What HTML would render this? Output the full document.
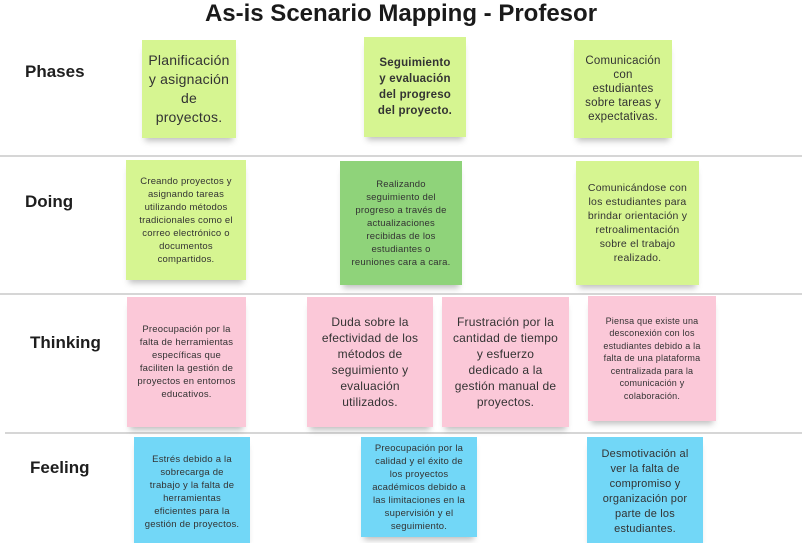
<!DOCTYPE html>
<html><head><meta charset="utf-8"><style>
body{margin:0;width:802px;height:543px;background:#fff;position:relative;overflow:hidden;font-family:"Liberation Sans","DejaVu Sans",sans-serif;color:#222}
.t{position:absolute;left:0;width:802px;top:0;text-align:center;font-weight:bold;font-size:24px;line-height:28px;color:#1a1a1a}
.l{position:absolute;font-weight:bold;font-size:17px;color:#1e1e1e}
.h{position:absolute;height:2px;background:#d6d6d6}
.n{position:absolute;display:flex;align-items:center;justify-content:center;text-align:center;box-sizing:border-box;padding:4px 12px;color:#333;box-shadow:0 6px 6px -3px rgba(0,0,0,0.25);letter-spacing:0.2px}
.y{background:#d6f591}.g{background:#8fd37a}.p{background:#fbc8d8}.b{background:#72d7f7}
</style></head><body>
<div class="t">As-is Scenario Mapping - Profesor</div>
<div class="l" style="left:25px;top:62px">Phases</div>
<div class="l" style="left:25px;top:192px">Doing</div>
<div class="l" style="left:30px;top:333px">Thinking</div>
<div class="l" style="left:30px;top:458px">Feeling</div>
<div class="h" style="left:0;top:155px;width:802px"></div>
<div class="h" style="left:0;top:293px;width:802px"></div>
<div class="h" style="left:5px;top:432px;width:797px"></div>

<div class="n y" style="left:142px;top:40px;width:94px;height:98px;font-size:14px;line-height:19px;padding:4px 6px">Planificación y asignación de proyectos.</div>
<div class="n y" style="left:364px;top:37px;width:102px;height:100px;font-size:11.5px;line-height:16px;font-weight:bold">Seguimiento y evaluación del progreso del proyecto.</div>
<div class="n y" style="left:574px;top:40px;width:98px;height:98px;font-size:11.5px;line-height:14px;padding:4px 9px">Comunicación con estudiantes sobre tareas y expectativas.</div>

<div class="n y" style="left:126px;top:160px;width:120px;height:120px;font-size:9.5px;line-height:13px;padding:4px 10px">Creando proyectos y asignando tareas utilizando métodos tradicionales como el correo electrónico o documentos compartidos.</div>
<div class="n g" style="left:340px;top:161px;width:122px;height:124px;font-size:9.5px;line-height:13px;padding:4px 11px">Realizando seguimiento del progreso a través de actualizaciones recibidas de los estudiantes o reuniones cara a cara.</div>
<div class="n y" style="left:576px;top:161px;width:123px;height:124px;font-size:10.5px;line-height:14px;padding:4px 8px">Comunicándose con los estudiantes para brindar orientación y retroalimentación sobre el trabajo realizado.</div>

<div class="n p" style="left:127px;top:297px;width:119px;height:130px;font-size:9.5px;line-height:13px;padding:4px 8px">Preocupación por la falta de herramientas específicas que faciliten la gestión de proyectos en entornos educativos.</div>
<div class="n p" style="left:307px;top:297px;width:126px;height:130px;font-size:12px;line-height:16px">Duda sobre la efectividad de los métodos de seguimiento y evaluación utilizados.</div>
<div class="n p" style="left:442px;top:297px;width:127px;height:130px;font-size:12px;line-height:16px;padding:4px 10px">Frustración por la cantidad de tiempo y esfuerzo dedicado a la gestión manual de proyectos.</div>
<div class="n p" style="left:588px;top:296px;width:128px;height:125px;font-size:9px;line-height:12.5px;padding:4px 10px">Piensa que existe una desconexión con los estudiantes debido a la falta de una plataforma centralizada para la comunicación y colaboración.</div>

<div class="n b" style="left:134px;top:437px;width:116px;height:106px;font-size:9.5px;line-height:13px;padding:8px 10px 4px">Estrés debido a la sobrecarga de trabajo y la falta de herramientas eficientes para la gestión de proyectos.</div>
<div class="n b" style="left:361px;top:437px;width:116px;height:100px;font-size:9.5px;line-height:13px;padding:4px 8px">Preocupación por la calidad y el éxito de los proyectos académicos debido a las limitaciones en la supervisión y el seguimiento.</div>
<div class="n b" style="left:587px;top:437px;width:116px;height:106px;font-size:11px;line-height:15px;padding:8px 10px 4px">Desmotivación al ver la falta de compromiso y organización por parte de los estudiantes.</div>
</body></html>
